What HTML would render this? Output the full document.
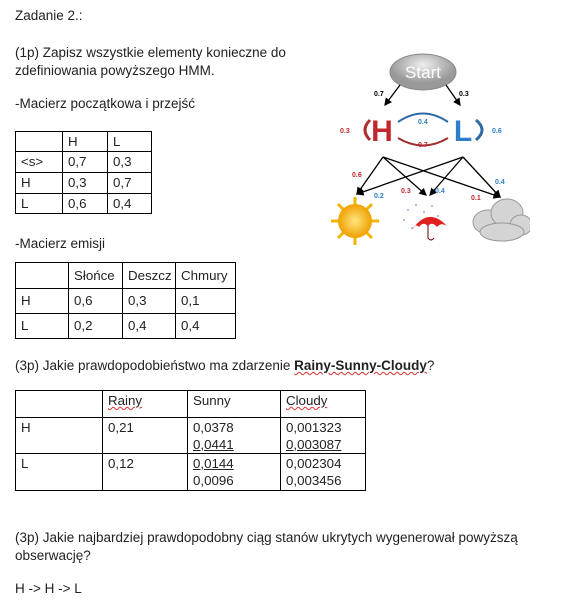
<!DOCTYPE html>
<html><head><meta charset="utf-8"><style>
body{margin:0;width:565px;height:612px;background:#fff;position:relative;font-family:"Liberation Sans",sans-serif;font-size:13.5px;color:#222;overflow:hidden}
.t{position:absolute;white-space:nowrap}
table{position:absolute;border-collapse:collapse;font-size:13.3px}
td{border:1px solid #000;padding:1px 0 0 5px;vertical-align:top;line-height:17px}
.sq{text-decoration:underline wavy #d33;text-decoration-thickness:1px}
.u{text-decoration:underline}
</style></head><body>
<div class="t" style="left:15px;top:8px">Zadanie 2.:</div>
<div class="t" style="left:15px;top:44px;line-height:18px">(1p) Zapisz wszystkie elementy konieczne do<br>zdefiniowania powyższego HMM.</div>
<div class="t" style="left:15px;top:96px">-Macierz początkowa i przejść</div>
<table style="left:15px;top:131px;width:137px">
<tr style="height:20px"><td style="width:41px"></td><td style="width:39px">H</td><td>L</td></tr>
<tr style="height:21px"><td>&lt;s&gt;</td><td>0,7</td><td>0,3</td></tr>
<tr style="height:21px"><td>H</td><td>0,3</td><td>0,7</td></tr>
<tr style="height:20px"><td>L</td><td>0,6</td><td>0,4</td></tr>
</table>
<div class="t" style="left:15px;top:236px">-Macierz emisji</div>
<table style="left:15px;top:262px;width:221px">
<tr style="height:26px"><td style="width:47px;padding-top:4px"></td><td style="width:48px;padding-top:4px">Słońce</td><td style="width:47px;padding-top:4px">Deszcz</td><td style="padding-top:4px">Chmury</td></tr>
<tr style="height:25px"><td style="padding-top:3px">H</td><td style="padding-top:3px">0,6</td><td style="padding-top:3px">0,3</td><td style="padding-top:3px">0,1</td></tr>
<tr style="height:25px"><td style="padding-top:3px">L</td><td style="padding-top:3px">0,2</td><td style="padding-top:3px">0,4</td><td style="padding-top:3px">0,4</td></tr>
</table>
<div class="t" style="left:15px;top:358px">(3p) Jakie prawdopodobieństwo ma zdarzenie <b class="sq">Rainy-Sunny-Cloudy</b>?</div>
<table style="left:15px;top:390px;width:351px">
<tr style="height:27px"><td style="width:81px"></td><td style="width:79px"><span class="sq">Rainy</span></td><td style="width:87px">Sunny</td><td><span class="sq">Cloudy</span></td></tr>
<tr style="height:36px"><td>H</td><td>0,21</td><td>0,0378<br><span class="u">0,0441</span></td><td>0,001323<br><span class="u">0,003087</span></td></tr>
<tr style="height:37px"><td>L</td><td>0,12</td><td><span class="u">0,0144</span><br>0,0096</td><td>0,002304<br>0,003456</td></tr>
</table>
<div class="t" style="left:15px;top:529px;line-height:18px">(3p) Jakie najbardziej prawdopodobny ciąg stanów ukrytych wygenerował powyższą<br>obserwację?</div>
<div class="t" style="left:15px;top:581px">H -&gt; H -&gt; L</div>

<svg style="position:absolute;left:330px;top:40px" width="200" height="210" font-family="Liberation Sans" font-weight="bold">
<defs>
<marker id="a" markerWidth="6" markerHeight="6" refX="5" refY="3" orient="auto"><path d="M0,0L6,3L0,6z" fill="#000"/></marker>
<radialGradient id="sun"><stop offset="0" stop-color="#ffe680"/><stop offset="1" stop-color="#f0a000"/></radialGradient>
<radialGradient id="st" cx=".5" cy=".3"><stop offset="0" stop-color="#eee"/><stop offset="1" stop-color="#999"/></radialGradient>
</defs>
<ellipse cx="93" cy="32" rx="33" ry="18" fill="url(#st)" stroke="#888"/>
<text x="93" y="38" font-size="17" fill="#fff" text-anchor="middle" font-weight="normal">Start</text>
<line x1="70" y1="45" x2="55" y2="65" stroke="#000" stroke-width="1.3" marker-end="url(#a)"/>
<line x1="116" y1="45" x2="130" y2="65" stroke="#000" stroke-width="1.3" marker-end="url(#a)"/>
<text x="44" y="56" font-size="7">0.7</text><text x="129" y="56" font-size="7">0.3</text>
<text x="52" y="101" font-size="30" fill="#c0282d" text-anchor="middle">H</text>
<text x="133" y="101" font-size="30" fill="#2e7fc8" text-anchor="middle">L</text>
<path d="M40,80 Q30,90 40,100" stroke="#b03030" stroke-width="3" fill="none"/>
<path d="M146,80 Q158,90 146,100" stroke="#2e6aa8" stroke-width="3" fill="none"/>
<path d="M68,82 Q93,65 118,82" stroke="#2e6aa8" stroke-width="2" fill="none"/>
<path d="M68,98 Q93,113 118,98" stroke="#a03030" stroke-width="2" fill="none"/>
<text x="10" y="93" font-size="7" fill="#c0282d">0.3</text>
<text x="162" y="93" font-size="7" fill="#2e7fc8">0.6</text>
<text x="88" y="84" font-size="7" fill="#2e7fc8">0.4</text>
<text x="88" y="107" font-size="7" fill="#c0282d">0.7</text>
<g stroke="#000" stroke-width="1.3" marker-end="url(#a)">
<line x1="53" y1="117" x2="27" y2="154"/><line x1="53" y1="117" x2="96" y2="155"/><line x1="53" y1="117" x2="170" y2="157"/>
<line x1="133" y1="117" x2="27" y2="154"/><line x1="133" y1="117" x2="100" y2="155"/><line x1="133" y1="117" x2="170" y2="157"/>
</g>
<text x="22" y="137" font-size="7" fill="#c0282d">0.6</text>
<text x="44" y="158" font-size="7" fill="#2e7fc8">0.2</text>
<text x="71" y="153" font-size="7" fill="#c0282d">0.3</text>
<text x="105" y="153" font-size="7" fill="#2e7fc8">0.4</text>
<text x="141" y="160" font-size="7" fill="#c0282d">0.1</text>
<text x="165" y="144" font-size="7" fill="#2e7fc8">0.4</text>
<g>
<g stroke="#f2b400" stroke-width="3"><line x1="25" y1="157" x2="25" y2="205"/><line x1="1" y1="181" x2="49" y2="181"/><line x1="8" y1="164" x2="42" y2="198"/><line x1="42" y1="164" x2="8" y2="198"/></g>
<circle cx="25" cy="181" r="17" fill="url(#sun)"/></g>
<g fill="#9aaee0">
<circle cx="78" cy="170" r="1"/><circle cx="86" cy="165" r="1"/><circle cx="94" cy="172" r="1"/><circle cx="102" cy="166" r="1"/><circle cx="74" cy="180" r="1"/><circle cx="108" cy="176" r="1"/><circle cx="82" cy="188" r="1"/>
<path d="M82,190 Q98,166 117,186 Q111,182 107,187 Q102,181 98,186 Q93,181 89,187 Q85,183 82,190z" fill="#e02020"/>
<path d="M98,185 L98,198 Q101,202 104,198" stroke="#600" fill="none"/></g>
<g fill="#d4d4d4" stroke="#999">
<ellipse cx="158" cy="182" rx="15" ry="12"/><ellipse cx="177" cy="173" rx="16" ry="14"/><ellipse cx="191" cy="185" rx="11" ry="10"/><ellipse cx="172" cy="192" rx="22" ry="9"/></g>
</svg>
</body></html>
